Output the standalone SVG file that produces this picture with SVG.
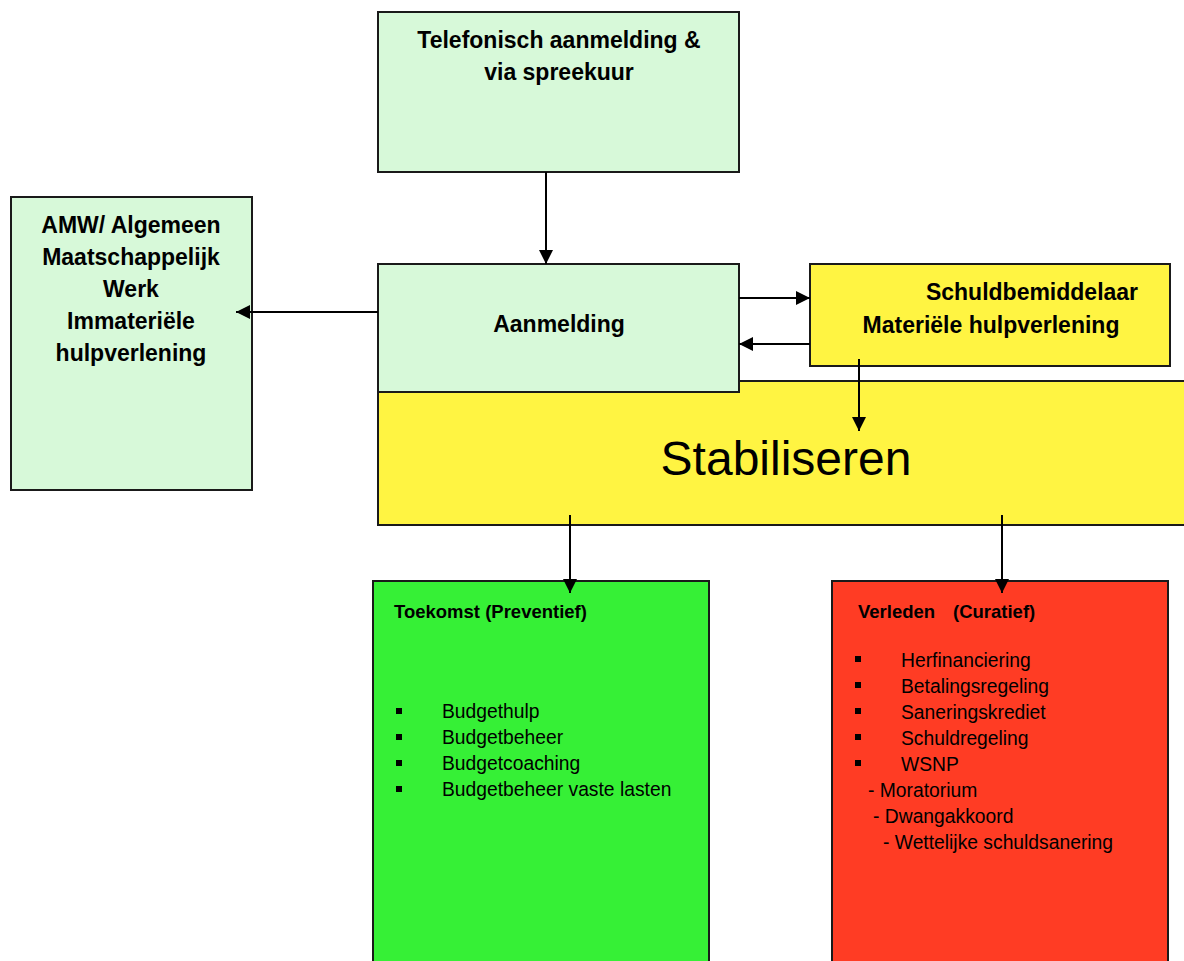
<svg xmlns="http://www.w3.org/2000/svg" width="1184" height="961" viewBox="0 0 1184 961">
<style>
.box{stroke:#1a1a1a;stroke-width:2}
.lg{fill:#D7F9D9}
.ye{fill:#FFF442}
.gr{fill:#36F036}
.rd{fill:#FF3C24}
.b{font-family:"Liberation Sans",Arial,sans-serif;font-weight:bold;font-size:23px;fill:#000}
.h{font-family:"Liberation Sans",Arial,sans-serif;font-weight:bold;font-size:18.5px;fill:#000}
.t{font-family:"Liberation Sans",Arial,sans-serif;font-size:19.3px;fill:#000}
.big{font-family:"Liberation Sans",Arial,sans-serif;font-size:48px;fill:#000}
.c{stroke:#000;stroke-width:2;fill:none}
</style>
<defs>
<marker id="ah" viewBox="0 0 10 10" refX="10" refY="5" markerWidth="16" markerHeight="14" markerUnits="userSpaceOnUse" orient="auto">
<path d="M0,0 L10,5 L0,10 z" fill="#000"/>
</marker>
</defs>
<g id="telefonisch">
<rect class="box lg" x="378" y="12" width="361" height="160"/>
<text class="b" x="559" y="48" text-anchor="middle">Telefonisch aanmelding &amp;</text>
<text class="b" x="559" y="80" text-anchor="middle">via spreekuur</text>
</g>
<g id="amw">
<rect class="box lg" x="11" y="197" width="241" height="293"/>
<text class="b" x="131" y="233" text-anchor="middle">AMW/ Algemeen</text>
<text class="b" x="131" y="265" text-anchor="middle">Maatschappelijk</text>
<text class="b" x="131" y="297" text-anchor="middle">Werk</text>
<text class="b" x="131" y="329" text-anchor="middle">Immateriële</text>
<text class="b" x="131" y="361" text-anchor="middle">hulpverlening</text>
</g>
<g id="schuldbemiddelaar">
<rect class="box ye" x="810" y="264" width="360" height="102"/>
<text class="b" x="1032" y="300" text-anchor="middle">Schuldbemiddelaar</text>
<text class="b" x="991" y="333" text-anchor="middle">Materiële hulpverlening</text>
</g>
<g id="stabiliseren">
<rect class="box ye" x="378" y="381" width="820" height="144"/>
<text class="big" x="786" y="475" text-anchor="middle">Stabiliseren</text>
</g>
<g id="aanmelding">
<rect class="box lg" x="378" y="264" width="361" height="128"/>
<text class="b" x="559" y="332" text-anchor="middle">Aanmelding</text>
</g>
<g id="toekomst">
<rect class="box gr" x="373" y="581" width="336" height="390"/>
<text class="h" x="394" y="618">Toekomst (Preventief)</text>
<rect x="396" y="708" width="6" height="6" fill="#000"/>
<rect x="396" y="734" width="6" height="6" fill="#000"/>
<rect x="396" y="760" width="6" height="6" fill="#000"/>
<rect x="396" y="786" width="6" height="6" fill="#000"/>
<text class="t" x="442" y="718">Budgethulp</text>
<text class="t" x="442" y="744">Budgetbeheer</text>
<text class="t" x="442" y="770">Budgetcoaching</text>
<text class="t" x="442" y="796">Budgetbeheer vaste lasten</text>
</g>
<g id="verleden">
<rect class="box rd" x="832" y="581" width="336" height="390"/>
<text class="h" x="858" y="618">Verleden</text>
<text class="h" x="953" y="618">(Curatief)</text>
<rect x="855" y="656" width="6" height="6" fill="#000"/>
<rect x="855" y="682" width="6" height="6" fill="#000"/>
<rect x="855" y="708" width="6" height="6" fill="#000"/>
<rect x="855" y="734" width="6" height="6" fill="#000"/>
<rect x="855" y="760" width="6" height="6" fill="#000"/>
<text class="t" x="901" y="667">Herfinanciering</text>
<text class="t" x="901" y="693">Betalingsregeling</text>
<text class="t" x="901" y="719">Saneringskrediet</text>
<text class="t" x="901" y="745">Schuldregeling</text>
<text class="t" x="901" y="771">WSNP</text>
<text class="t" x="868" y="797">- Moratorium</text>
<text class="t" x="873" y="823">- Dwangakkoord</text>
<text class="t" x="883" y="849">- Wettelijke schuldsanering</text>
</g>
<g id="connectors">
<line class="c" x1="546" y1="172" x2="546" y2="264" marker-end="url(#ah)"/>
<line class="c" x1="378" y1="312" x2="236" y2="312" marker-end="url(#ah)"/>
<line class="c" x1="739" y1="298" x2="810" y2="298" marker-end="url(#ah)"/>
<line class="c" x1="810" y1="344" x2="739" y2="344" marker-end="url(#ah)"/>
<line class="c" x1="859" y1="359" x2="859" y2="431" marker-end="url(#ah)"/>
<line class="c" x1="570" y1="515" x2="570" y2="593" marker-end="url(#ah)"/>
<line class="c" x1="1002" y1="515" x2="1002" y2="593" marker-end="url(#ah)"/>
</g>
</svg>
